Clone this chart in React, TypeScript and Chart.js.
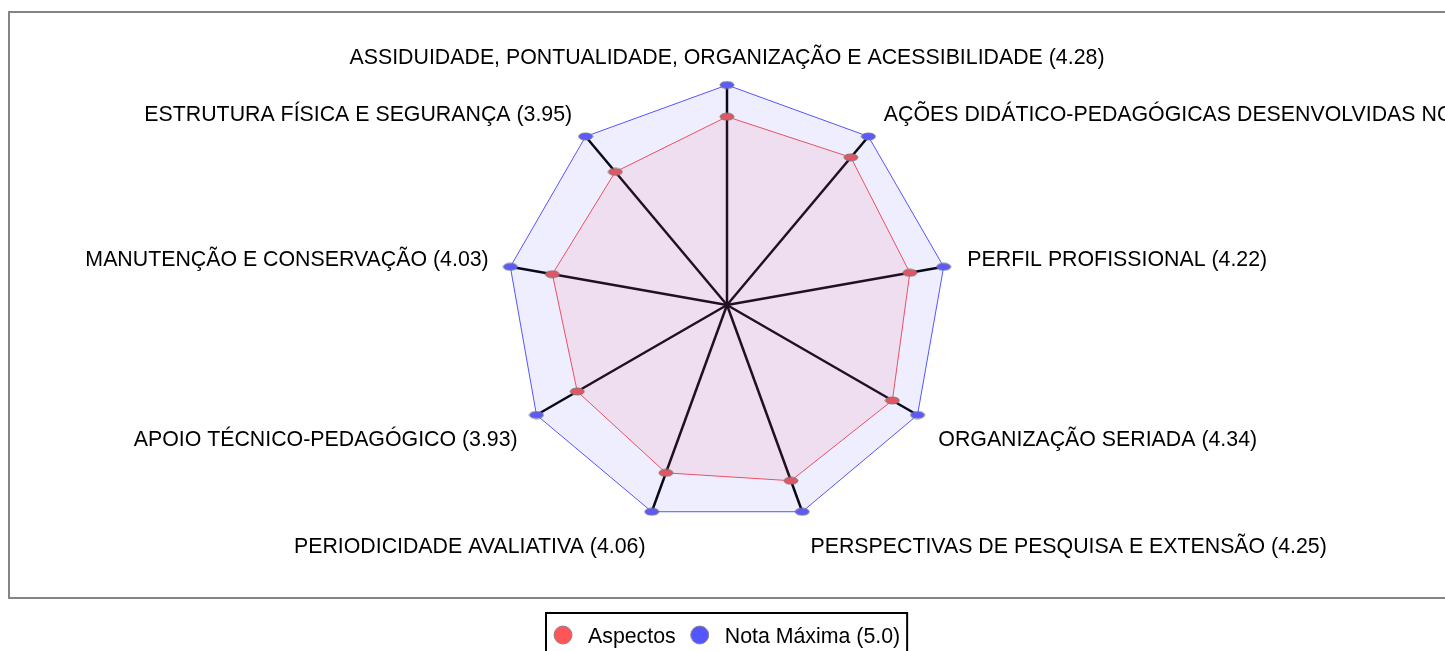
import React, { useEffect, useRef } from 'react';
import { Chart, registerables } from 'chart.js';

Chart.register(...registerables);

const categories = [
  'ASSIDUIDADE, PONTUALIDADE, ORGANIZAÇÃO E ACESSIBILIDADE',
  'AÇÕES DIDÁTICO-PEDAGÓGICAS DESENVOLVIDAS NO CURSO',
  'PERFIL PROFISSIONAL',
  'ORGANIZAÇÃO SERIADA',
  'PERSPECTIVAS DE PESQUISA E EXTENSÃO',
  'PERIODICIDADE AVALIATIVA',
  'APOIO TÉCNICO-PEDAGÓGICO',
  'MANUTENÇÃO E CONSERVAÇÃO',
  'ESTRUTURA FÍSICA E SEGURANÇA',
];
const aspectValues = [4.28, 4.38, 4.22, 4.34, 4.25, 4.06, 3.93, 4.03, 3.95];
const maxValues = [5, 5, 5, 5, 5, 5, 5, 5, 5];
const seriesNames = ['Aspectos', 'Nota Máxima (5.0)'];
const pointLabelTexts = categories.map((c, i) => `${c} (${aspectValues[i].toFixed(2)})`);

const FONT = '21.33px "Liberation Sans", Arial, sans-serif';
const RED_LINE = 'rgb(235, 80, 100)';
const RED_FILL = 'rgba(235, 80, 100, 0.1)';
const RED_DOT = 'rgb(225, 85, 100)';
const BLUE_LINE = 'rgb(85, 85, 255)';
const BLUE_FILL = 'rgba(85, 85, 255, 0.1)';
const BLUE_DOT = 'rgb(90, 90, 255)';
const LEGEND_RED = 'rgb(255, 85, 90)';
const LEGEND_BLUE = 'rgb(85, 85, 255)';

const CW = 1438;
const CH = 660;

function makeEllipse(fill: string): HTMLCanvasElement {
  const c = document.createElement('canvas');
  c.width = 16;
  c.height = 9;
  const g = c.getContext('2d')!;
  g.beginPath();
  g.ellipse(8, 4.5, 7, 3.5, 0, 0, Math.PI * 2);
  g.fillStyle = fill;
  g.fill();
  g.strokeStyle = 'rgba(120,120,120,0.9)';
  g.lineWidth = 1;
  g.stroke();
  return c;
}

const overlayPlugin = {
  id: 'overlayPlugin',
  afterDraw(chart: any) {
    const ctx: CanvasRenderingContext2D = chart.ctx;
    const scale = chart.scales.r;
    const labels: string[] = chart.data.labels;
    const n = labels.length;
    ctx.save();

    // gray frame
    ctx.strokeStyle = '#858585';
    ctx.lineWidth = 2;
    ctx.strokeRect(1, 4, CW + 20, 586);

    // point labels
    ctx.font = FONT;
    ctx.fillStyle = '#000';
    ctx.textBaseline = 'middle';
    labels.forEach((lab, i) => {
      const p = scale.getPointPosition(i, scale.drawingArea + 24);
      const deg = (i * 360) / n;
      const align = deg === 0 || deg === 180 ? 'center' : deg < 180 ? 'left' : 'right';
      ctx.textAlign = align as CanvasTextAlign;
      const up = deg < 90 || deg > 270;
      const y = up ? p.y - 3 : p.y + 13;
      const x = align === 'right' ? p.x + 2 : p.x;
      ctx.fillText(lab, x, y);
    });

    // legend
    const ds = chart.data.datasets;
    const colors = [LEGEND_RED, LEGEND_BLUE];
    const widths = ds.map((d: any) => ctx.measureText(d.label).width);
    const padL = 9, dia = 18, gapT = 16, gapItem = 15, padR = 8;
    let total = padL + padR;
    widths.forEach((w: number, i: number) => {
      total += dia + gapT + w + (i > 0 ? gapItem : 0);
    });
    const left = Math.round(scale.xCenter - total / 2);
    ctx.strokeStyle = '#000';
    ctx.lineWidth = 2;
    ctx.strokeRect(left + 1, 605, total - 2, 60);
    let x = left + padL;
    const cy = 627;
    ds.forEach((d: any, i: number) => {
      ctx.beginPath();
      ctx.arc(x + dia / 2, cy, dia / 2, 0, Math.PI * 2);
      ctx.fillStyle = colors[i];
      ctx.fill();
      ctx.strokeStyle = '#888';
      ctx.lineWidth = 1;
      ctx.stroke();
      x += dia + gapT;
      ctx.fillStyle = '#000';
      ctx.textAlign = 'left';
      ctx.fillText(d.label, x, cy + 2);
      x += widths[i] + gapItem;
    });

    ctx.restore();
  },
};

export default function App() {
  const ref = useRef<HTMLCanvasElement | null>(null);

  useEffect(() => {
    document.documentElement.style.overflow = 'hidden';
    document.body.style.marginRight = '0px';
    if (!ref.current) return;
    const redDot = makeEllipse(RED_DOT);
    const blueDot = makeEllipse(BLUE_DOT);
    const chart = new Chart(ref.current, {
      type: 'radar',
      data: {
        labels: pointLabelTexts,
        datasets: [
          {
            label: seriesNames[0],
            data: aspectValues,
            borderColor: RED_LINE,
            backgroundColor: RED_FILL,
            borderWidth: 1,
            fill: true,
            pointStyle: redDot as any,
            pointRadius: 4,
            clip: false as any,
          },
          {
            label: seriesNames[1],
            data: maxValues,
            borderColor: BLUE_LINE,
            backgroundColor: BLUE_FILL,
            borderWidth: 1,
            fill: true,
            pointStyle: blueDot as any,
            pointRadius: 4,
            clip: false as any,
          },
        ],
      },
      options: {
        responsive: false,
        animation: false,
        devicePixelRatio: 1,
        layout: { padding: { top: 77, bottom: CH - 517, left: 0, right: 0 } },
        plugins: {
          legend: { display: false },
          tooltip: { enabled: false },
        },
        elements: { line: { tension: 0 } },
        scales: {
          r: {
            min: 0,
            max: 5,
            ticks: { display: false, stepSize: 1 },
            grid: { display: false },
            angleLines: { display: true, color: '#000', lineWidth: 2.5 },
            pointLabels: { display: false },
          },
        },
      },
      plugins: [overlayPlugin],
    });
    return () => chart.destroy();
  }, []);

  return (
    <div style={{ width: '1437px', overflow: 'hidden' }}>
      <canvas ref={ref} width={CW} height={CH} style={{ display: 'block', width: CW, height: CH }} />
    </div>
  );
}
